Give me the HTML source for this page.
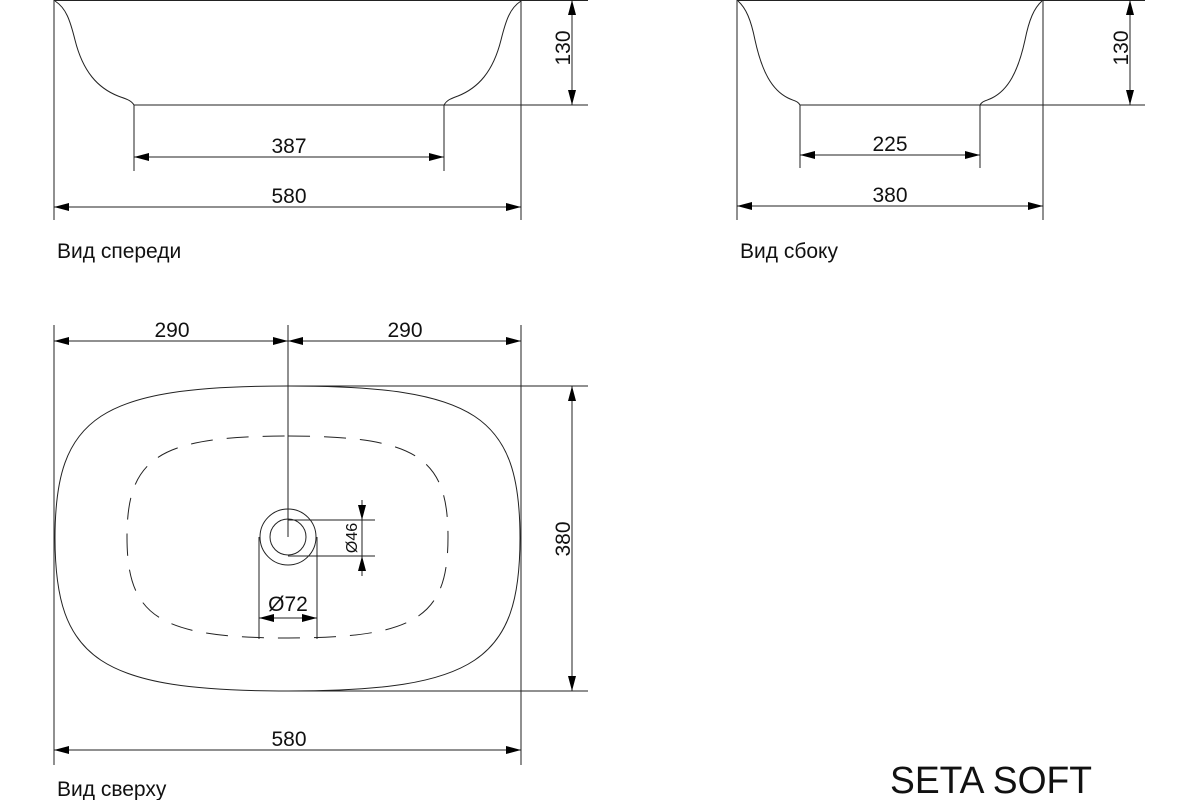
<!DOCTYPE html>
<html><head><meta charset="utf-8"><style>
html,body{margin:0;padding:0;background:#fff;width:1200px;height:800px;overflow:hidden}
svg text{font-family:"Liberation Sans","DejaVu Sans",sans-serif;fill:#111}
</style></head><body>
<svg width="1200" height="800" viewBox="0 0 1200 800" xmlns="http://www.w3.org/2000/svg">
<defs>
<marker id="a" viewBox="0 0 15 8" refX="15" refY="4" markerWidth="15" markerHeight="8" orient="auto-start-reverse" markerUnits="userSpaceOnUse"><path d="M0,0 L15,4 L0,8 z" fill="#000"/></marker>
</defs>
<g stroke="#222" stroke-width="1" fill="none">
<line x1="54" y1="0.5" x2="521" y2="0.5"/>
<line x1="54" y1="0" x2="54" y2="220"/>
<line x1="521" y1="0" x2="521" y2="220"/>
<line x1="134" y1="105" x2="588" y2="105"/>
<line x1="134" y1="105" x2="134" y2="171"/>
<line x1="444" y1="105" x2="444" y2="171"/>
<line x1="521" y1="0.5" x2="588" y2="0.5"/>
<path d="M55,1 C66,8 70,20 75,40 C83,72 98,88 118,96 C126,99 131,100 134,105"/>
<path d="M521,1 C510,8 506,20 501,40 C493,72 478,88 458,96 C450,99 447,100 444,105"/>
<line x1="134" y1="157" x2="444" y2="157" marker-start="url(#a)" marker-end="url(#a)"/>
<line x1="54" y1="207" x2="521" y2="207" marker-start="url(#a)" marker-end="url(#a)"/>
<line x1="572" y1="0" x2="572" y2="105" marker-start="url(#a)" marker-end="url(#a)"/>
<line x1="737" y1="0.5" x2="1043" y2="0.5"/>
<line x1="1043" y1="0.5" x2="1145" y2="0.5"/>
<line x1="737" y1="0" x2="737" y2="220"/>
<line x1="1043" y1="0" x2="1043" y2="220"/>
<line x1="800" y1="105" x2="1145" y2="105"/>
<line x1="800" y1="105" x2="800" y2="168"/>
<line x1="980" y1="105" x2="980" y2="168"/>
<path d="M738,1 C746,8 751,20 755,40 C762,72 772,90 788,98 C794,101 798,101 800,105"/>
<path d="M1042,1 C1034,8 1029,20 1025,40 C1018,72 1008,90 992,98 C986,101 982,101 980,105"/>
<line x1="800" y1="155" x2="980" y2="155" marker-start="url(#a)" marker-end="url(#a)"/>
<line x1="737" y1="206" x2="1043" y2="206" marker-start="url(#a)" marker-end="url(#a)"/>
<line x1="1130" y1="0" x2="1130" y2="105" marker-start="url(#a)" marker-end="url(#a)"/>
<line x1="54" y1="325" x2="54" y2="765"/>
<line x1="521" y1="325" x2="521" y2="765"/>
<line x1="288" y1="325" x2="288" y2="537"/>
<line x1="54" y1="341" x2="288" y2="341" marker-start="url(#a)" marker-end="url(#a)"/>
<line x1="288" y1="341" x2="521" y2="341" marker-start="url(#a)" marker-end="url(#a)"/>
<line x1="288" y1="386" x2="588" y2="386"/>
<line x1="288" y1="691" x2="588" y2="691"/>
<line x1="572" y1="386" x2="572" y2="691" marker-start="url(#a)" marker-end="url(#a)"/>
<line x1="54" y1="750" x2="521" y2="750" marker-start="url(#a)" marker-end="url(#a)"/>
<path d="M288,386 C476,386 520,416 520,538 C520,660 476,691 288,691 C100,691 55,660 55,538 C55,416 100,386 288,386 Z"/>
<path stroke-dasharray="22,14" d="M288,436 C418,436 448,458 448,537 C448,616 418,638 288,638 C158,638 127,616 127,537 C127,458 158,436 288,436 Z"/>
<circle cx="288" cy="537" r="28"/>
<circle cx="288" cy="537" r="18"/>
<line x1="288" y1="520" x2="375" y2="520"/>
<line x1="288" y1="556" x2="375" y2="556"/>
<line x1="362" y1="500" x2="362" y2="520" marker-end="url(#a)"/>
<line x1="362" y1="576" x2="362" y2="556" marker-end="url(#a)"/>
<line x1="362" y1="520" x2="362" y2="556"/>
<line x1="259" y1="537" x2="259" y2="639"/>
<line x1="317" y1="537" x2="317" y2="639"/>
<line x1="259" y1="618" x2="317" y2="618" marker-start="url(#a)" marker-end="url(#a)"/>
</g>
<g font-size="21">
<text x="289" y="153" text-anchor="middle">387</text>
<text x="289" y="203" text-anchor="middle">580</text>
<text x="890" y="151" text-anchor="middle">225</text>
<text x="890" y="202" text-anchor="middle">380</text>
<text x="172" y="337" text-anchor="middle">290</text>
<text x="405" y="337" text-anchor="middle">290</text>
<text x="289" y="746" text-anchor="middle">580</text>
<text x="288" y="611" text-anchor="middle">Ø72</text>
<text transform="translate(570,48) rotate(-90)" text-anchor="middle">130</text>
<text transform="translate(1128,48) rotate(-90)" text-anchor="middle">130</text>
<text transform="translate(570,539) rotate(-90)" text-anchor="middle">380</text>
<text x="57" y="258">Вид спереди</text>
<text x="740" y="258">Вид сбоку</text>
<text x="57" y="796">Вид сверху</text>
</g>
<text transform="translate(357,538) rotate(-90)" text-anchor="middle" font-size="16">Ø46</text>
<text x="890" y="793" font-size="38" textLength="202" lengthAdjust="spacingAndGlyphs">SETA SOFT</text>
</svg>
</body></html>
